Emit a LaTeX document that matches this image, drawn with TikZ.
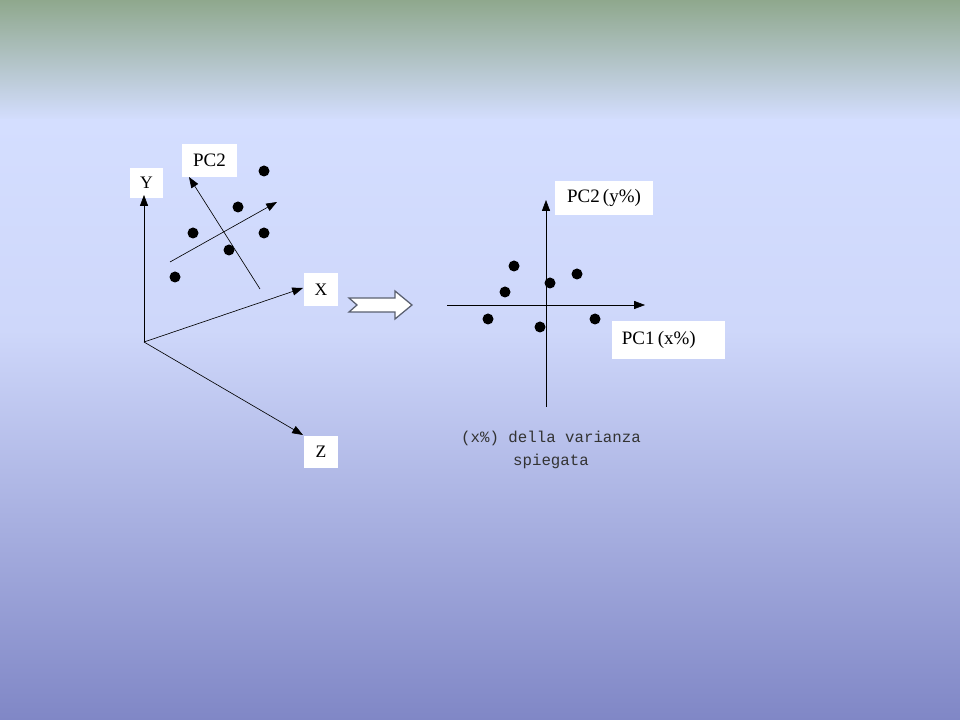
\documentclass[tikz,border=0pt]{standalone}
\usepackage{fontspec}
\setmainfont{Liberation Serif}
\setmonofont{Liberation Mono}
\usetikzlibrary{arrows.meta}
\definecolor{bgtop}{HTML}{8FA88D}
\definecolor{bgmid}{HTML}{D4DEFF}
\definecolor{bglow}{HTML}{CED7FA}
\definecolor{bgbot}{HTML}{8087C6}
\definecolor{arrgray}{HTML}{5A6070}
\tikzset{
  axis/.style={-{Triangle[length=2.7mm,width=2mm]}, line width=0.45pt},
  labelbox/.style={fill=white, inner sep=0pt, font=\fontsize{12.5}{14}\selectfont},
  pcbox/.style={fill=white, inner sep=0pt, font=\fontsize{13.5}{16}\selectfont},
  dot/.style={fill=black}
}
\begin{document}
\begin{tikzpicture}[x=0.025cm, y=-0.025cm]
			%%%%% BACKGROUND %%%%%
			\useasboundingbox (0,0) rectangle (960,720);
			\shade[top color=bgtop, bottom color=bgmid] (0,0) rectangle (960,121);
			\shade[top color=bgmid, bottom color=bglow] (0,120) rectangle (960,331);
			\shade[top color=bglow, bottom color=bgbot] (0,330) rectangle (960,720);
			
			%%%%% LEFT: ORIGINAL AXES %%%%%
			\node[labelbox, minimum width=0.83cm, minimum height=0.75cm] (ylab) at (146.5,183) {Y};
			\node[pcbox, minimum width=1.38cm, minimum height=0.83cm] (pc2lab) at (209.5,160.5) {PC2};
			\node[labelbox, minimum width=0.85cm, minimum height=0.83cm] (xlab) at (321,289.5) {X};
			\node[labelbox, minimum width=0.85cm, minimum height=0.80cm] (zlab) at (321,452) {Z};
			
			\coordinate (o) at (144,342);
			\coordinate (yend) at (144,195);
			\coordinate (xend) at (303,288);
			\coordinate (zend) at (303,435);
			\draw[axis] (o) -- (yend);
			\draw[axis] (o) -- (xend);
			\draw[axis] (o) -- (zend);
			
			\coordinate (pc2tail) at (260,289);
			\coordinate (pc2head) at (189,177);
			\coordinate (pc1tail) at (170,262);
			\coordinate (pc1head) at (277,202);
			\draw[axis] (pc2tail) -- (pc2head);
			\draw[axis] (pc1tail) -- (pc1head);
			
			\fill[dot] (264,171) circle (5.5);
			\fill[dot] (238,207) circle (5.5);
			\fill[dot] (193,233) circle (5.5);
			\fill[dot] (264,233) circle (5.5);
			\fill[dot] (229,250) circle (5.5);
			\fill[dot] (175,277) circle (5.5);
			
			%%%%% BLOCK ARROW %%%%%
			\draw[fill=white, draw=arrgray, line width=0.9pt] (349,298) -- (395,298) -- (395,291) -- (412,305)
			  -- (395,319) -- (395,312) -- (349,312) -- (357,305) -- cycle;
			
			%%%%% RIGHT: PRINCIPAL COMPONENTS %%%%%
			\coordinate (vbot) at (546,407);
			\coordinate (vtop) at (546,200);
			\coordinate (hleft) at (447,305);
			\coordinate (hright) at (645,305);
			\draw[axis] (vbot) -- (vtop);
			\draw[axis] (hleft) -- (hright);
			
			\node[pcbox, minimum width=2.45cm, minimum height=0.85cm] (pc2y) at (604,198) {PC2\,(y\%)};
			\node[pcbox, minimum width=2.83cm, minimum height=0.95cm, text width=2.33cm, align=left] (pc1x) at (668.5,340) {PC1\,(x\%)};
			
			\fill[dot] (514,266) circle (5.5);
			\fill[dot] (577,274) circle (5.5);
			\fill[dot] (550,283) circle (5.5);
			\fill[dot] (505,292) circle (5.5);
			\fill[dot] (488,319) circle (5.5);
			\fill[dot] (595,319) circle (5.5);
			\fill[dot] (540,327) circle (5.5);
			
			\node[font=\ttfamily\fontsize{11.2}{16.3}\selectfont, text=black!80, align=center] (caption) at (551,450)
			  {(x\%) della varianza\\spiegata};
			%%%%% END %%%%%
		\end{tikzpicture}
\end{document}
